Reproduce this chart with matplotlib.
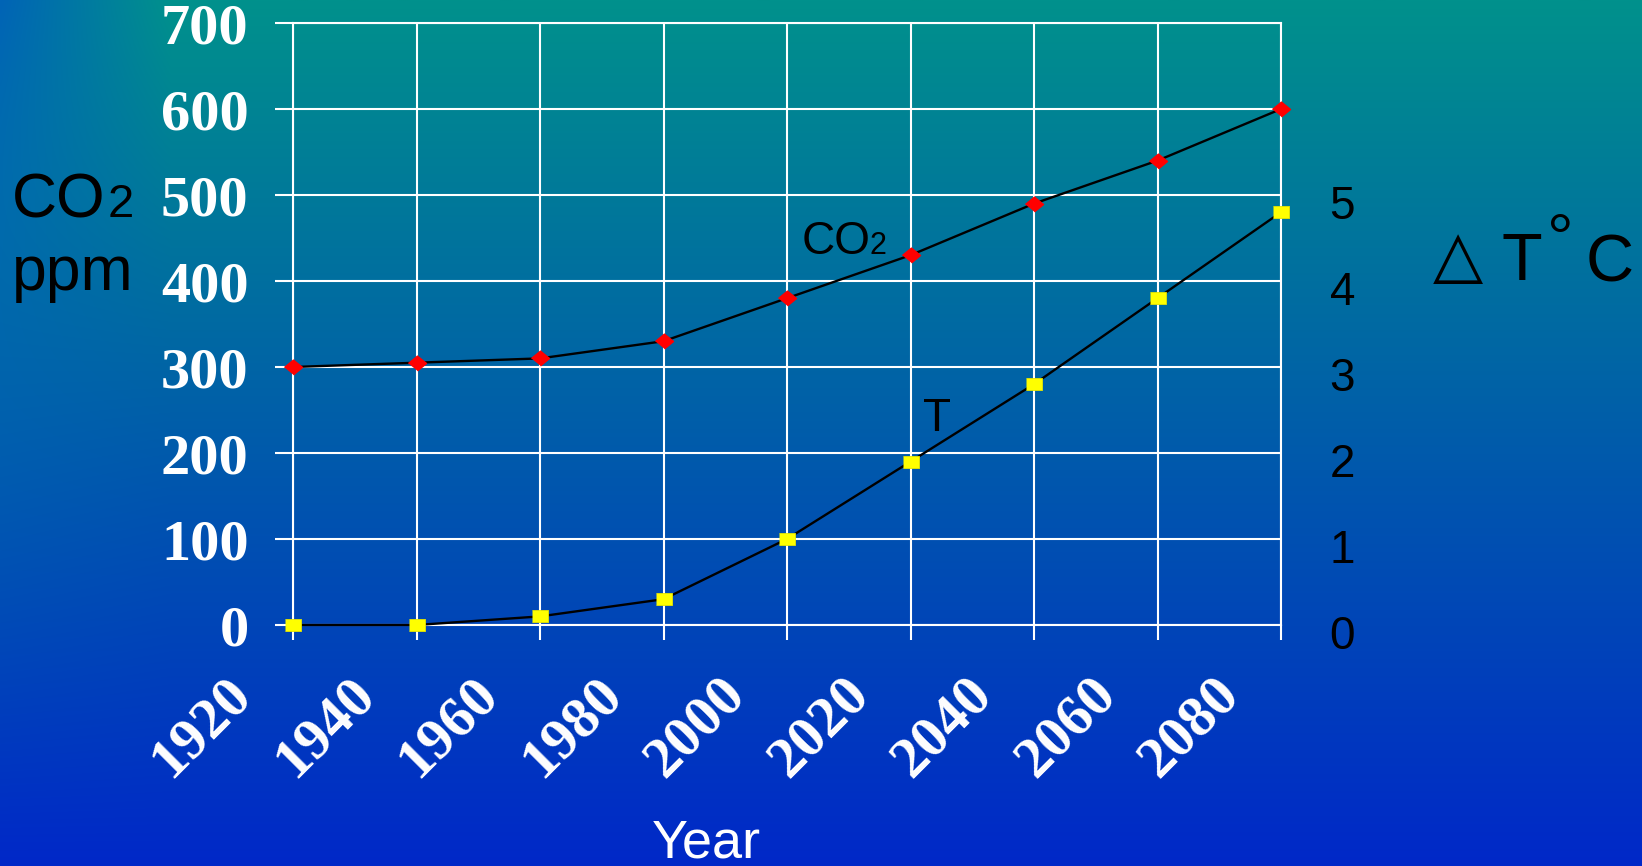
import numpy as np
import matplotlib
matplotlib.use("Agg")
import matplotlib.pyplot as plt
from matplotlib.transforms import ScaledTranslation

years = [1920, 1940, 1960, 1980, 2000, 2020, 2040, 2060, 2080]
co2_ppm = [300, 305, 310, 330, 380, 430, 490, 540, 600]
delta_t = [0, 0, 0.1, 0.3, 1.0, 1.9, 2.8, 3.8, 4.8]
ppm_ticks = [0, 100, 200, 300, 400, 500, 600, 700]
t_ticks = [0, 1, 2, 3, 4, 5]

serif_bold = dict(family="Liberation Serif", weight="bold", size=42, color="white")
sans = ["Liberation Sans", "DejaVu Sans"]

fig = plt.figure(figsize=(16.42, 8.66), dpi=100)
W, H = 1642, 866

# background: teal at the top fading to blue, a bluer strip on the left edge
ny, nx = 433, 821
t = np.linspace(0, 1, ny)[:, None]
x = np.linspace(0, W, nx)[None, :]
top = np.array([0, 145, 140]) / 255
bottom = np.array([0, 40, 200]) / 255
left = np.array([0, 100, 182]) / 255
base = top[None, None, :] * (1 - t[..., None]) + bottom[None, None, :] * t[..., None]
base = np.broadcast_to(base, (ny, nx, 3))
w = (np.clip(1 - x / 170, 0, 1) * (1 - t) ** 1.5)[..., None]
bg = base * (1 - w) + left[None, None, :] * w
bg_ax = fig.add_axes([0, 0, 1, 1], zorder=-10)
bg_ax.imshow(bg, aspect="auto", interpolation="bilinear", extent=(0, 1, 0, 1))
bg_ax.axis("off")

ax = fig.add_axes([293 / W, 1 - 625 / H, (1281 - 293) / W, (625 - 23) / H])
ax.set_facecolor("none")
idx = np.arange(len(years))

ax.plot(idx, co2_ppm, color="black", lw=1.7, zorder=3,
        marker=[(-1, 0), (0, 0.82), (1, 0), (0, -0.82)], ms=13,
        mfc="red", mec="red", clip_on=False)
ax.set_xlim(0, len(years) - 1)
ax.set_ylim(0, 700)
ax.set_yticks(ppm_ticks)
ax.set_yticklabels([str(v) for v in ppm_ticks], fontdict=serif_bold)
ax.set_xticks(idx)
ax.set_xticklabels([str(y) for y in years], fontdict=serif_bold,
                   rotation=45, ha="right", va="center", rotation_mode="anchor")
ax.grid(True, color="white", lw=1.5)
ax.set_axisbelow(True)
for s in ax.spines.values():
    s.set_color("white")
    s.set_linewidth(1.5)
ax.tick_params(axis="y", colors="white", length=13, width=1.5, pad=19)
ax.tick_params(axis="x", colors="white", length=11, width=1.5, pad=33)
shift = ScaledTranslation(-50 / 100, 0, fig.dpi_scale_trans)
for lbl in ax.get_xticklabels():
    lbl.set_transform(lbl.get_transform() + shift)

ax2 = ax.twinx()
ax2.plot(idx, delta_t, color="black", lw=1.7, zorder=3,
         marker=[(-1, -0.75), (1, -0.75), (1, 0.75), (-1, 0.75)], ms=12,
         mfc="#ffff00", mec="#e6e600", mew=0.6, clip_on=False)
ax2.set_ylim(0, 7)
ax2.set_yticks(t_ticks)
ax2.set_yticklabels([str(v) for v in t_ticks], family=sans, size=33, color="black")
ax2.tick_params(axis="y", length=0, pad=35)
for s in ax2.spines.values():
    s.set_visible(False)
down = ScaledTranslation(0, -7 / 100, fig.dpi_scale_trans)
for lbl in ax2.get_yticklabels():
    lbl.set_transform(lbl.get_transform() + down)

# series labels
ax.text(4.12, 431, "CO", family=sans, size=33, color="black", va="baseline")
ax.text(4.67, 431, "2", family=sans, size=22, color="black", va="baseline")
ax.text(5.1, 226, "T", family=sans, size=33, color="black", va="baseline")

# left axis title: CO2 / ppm, the 2 sits on the baseline after CO
co = fig.text(12 / W, 1 - 217 / H, "CO", family=sans, size=45, color="black", va="baseline")
fig.canvas.draw()
x_end = co.get_window_extent().x1 / W
fig.text(x_end + 2 / W, 1 - 217 / H, "2", family=sans, size=34, color="black", va="baseline")
fig.text(12 / W, 1 - 290 / H, "ppm", family=sans, size=45, color="black", va="baseline")

# right axis title: delta T in degrees C
fig.text(1433 / W, 1 - 276 / H, "\u25b3", family=["DejaVu Sans"], size=47, color="black", va="baseline")
fig.text(1501 / W, 1 - 280 / H, "T", family=sans, size=48, color="black", va="baseline")
fig.text(1547 / W, 1 - 260 / H, "\u00b0", family=sans, size=48, color="black", va="baseline")
fig.text(1586 / W, 1 - 281 / H, "C", family=sans, size=48, color="black", va="baseline")

fig.text(706 / W, 1 - 857 / H, "Year", family=sans, size=39, color="white",
         ha="center", va="baseline")

fig.savefig("out.png", dpi=100)
